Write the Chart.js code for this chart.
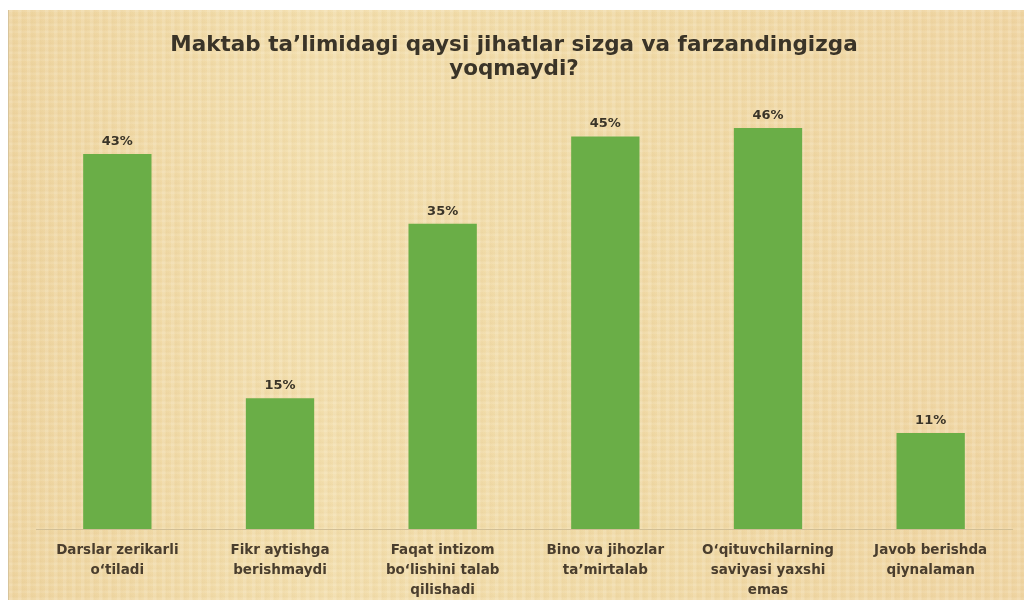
<!DOCTYPE html>
<html>
<head>
<meta charset="utf-8">
<script src="https://cdn.jsdelivr.net/npm/chart.js@4/dist/chart.umd.min.js"></script>
<style>
  html, body { margin: 0; padding: 0; background: #ffffff; }
  #paper {
    position: absolute;
    left: 8px; top: 10px;
    width: 1016px; height: 590px;
    background-color: #f1dba8;
    background-image:
      repeating-linear-gradient(90deg, rgba(255,255,255,0.10) 0px, rgba(255,255,255,0.10) 3px, rgba(200,160,90,0.06) 4px, rgba(255,255,255,0) 9px),
      repeating-linear-gradient(0deg, rgba(255,255,255,0.08) 0px, rgba(255,255,255,0.08) 2px, rgba(190,150,80,0.05) 3px, rgba(255,255,255,0) 7px),
      linear-gradient(90deg, #efd6a2 0%, #f3dfae 30%, #f1dba8 60%, #f0d6a4 100%);
    border-left: 1px solid #d8c49a;
  }
  #chart { display: block; }
</style>
</head>
<body>
<div id="paper"><canvas id="chart" width="1016" height="590"></canvas></div>
<script>
  const titleLines = ["Maktab ta’limidagi qaysi jihatlar sizga va farzandingizga", "yoqmaydi?"];
  const categories = [
    ["Darslar zerikarli", "o‘tiladi"],
    ["Fikr aytishga", "berishmaydi"],
    ["Faqat intizom", "bo‘lishini talab", "qilishadi"],
    ["Bino va jihozlar", "ta’mirtalab"],
    ["O‘qituvchilarning", "saviyasi yaxshi", "emas"],
    ["Javob berishda", "qiynalaman"]
  ];
  const values = [43, 15, 35, 45, 46, 11];

  const valueLabels = {
    id: "valueLabels",
    afterDatasetsDraw(chart) {
      const ctx = chart.ctx;
      const meta = chart.getDatasetMeta(0);
      ctx.save();
      ctx.font = "bold 13px 'DejaVu Sans'";
      ctx.fillStyle = "#3a3428";
      ctx.textAlign = "center";
      ctx.textBaseline = "bottom";
      meta.data.forEach(function (bar, i) {
        ctx.fillText(values[i] + "%", bar.x, bar.y - 6);
      });
      ctx.restore();
    }
  };

  new Chart(document.getElementById("chart"), {
    type: "bar",
    data: {
      labels: categories,
      datasets: [{
        data: values,
        backgroundColor: "#6aae47",
        borderWidth: 0,
        barPercentage: 0.42,
        categoryPercentage: 1
      }]
    },
    options: {
      responsive: false,
      animation: false,
      layout: { padding: { left: 7, right: 13, top: 23, bottom: -11 } },
      plugins: {
        legend: { display: false },
        tooltip: { enabled: false },
        title: {
          display: true,
          text: titleLines,
          color: "#3a3428",
          font: { family: "'DejaVu Sans'", size: 21.5, weight: "bold", lineHeight: "24px" },
          padding: { top: 0, bottom: 12 }
        }
      },
      scales: {
        x: {
          grid: { display: false, drawTicks: false },
          border: { display: true, color: "#d2bf95", width: 1 },
          ticks: {
            color: "#4a3e2e",
            font: { family: "'DejaVu Sans'", size: 13.5, weight: "bold", lineHeight: "20px" },
            maxRotation: 0,
            autoSkip: false,
            padding: 11
          }
        },
        y: {
          min: 0,
          max: 50,
          grid: { display: false, drawTicks: false },
          border: { display: false },
          ticks: { display: false },
          afterFit: function (scale) { scale.width = 20; }
        }
      }
    },
    plugins: [valueLabels]
  });
</script>
</body>
</html>
